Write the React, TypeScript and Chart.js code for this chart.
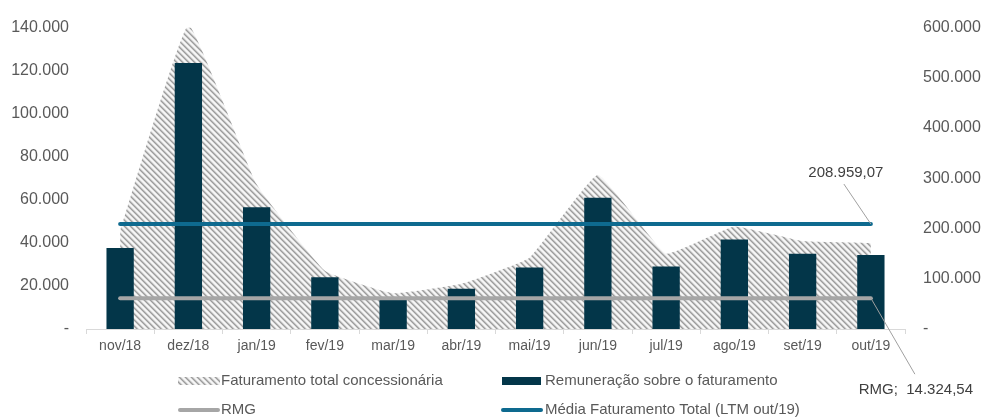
import React, { useEffect, useRef } from 'react';
import { Chart, registerables } from 'chart.js';

Chart.register(...registerables);

const categories = ['nov/18', 'dez/18', 'jan/19', 'fev/19', 'mar/19', 'abr/19', 'mai/19', 'jun/19', 'jul/19', 'ago/19', 'set/19', 'out/19'];
// Faturamento total concessionária (right axis)
const faturamento = [195000, 605000, 288000, 116000, 71000, 90000, 142000, 307000, 150000, 204000, 175000, 171000];
// Remuneração sobre o faturamento (left axis)
const remuneracao = [37600, 123500, 56500, 24000, 13800, 18700, 28600, 61000, 29000, 41600, 35000, 34400];
const rmgValue = 14324.54;
const mediaValue = 208959.07;
const leftMax = 140000;
const leftStep = 20000;
const rightMax = 600000;
const rightStep = 100000;

const legendLabels = ['Faturamento total concessionária', 'Remuneração sobre o faturamento', 'RMG', 'Média Faturamento Total (LTM out/19)'];

const FONT = '"Liberation Sans", Arial, sans-serif';
const NAVY = '#033649';
const BLUE = '#0e6a8f';
const GRAY = '#a6a6a6';
const TEXT = '#595959';

function fmtInt(v: number): string {
  if (v === 0) return '-';
  return Math.round(v).toString().replace(/\B(?=(\d{3})+(?!\d))/g, '.');
}
function fmtDec(v: number): string {
  const [i, d] = v.toFixed(2).split('.');
  return i.replace(/\B(?=(\d{3})+(?!\d))/g, '.') + ',' + d;
}

function makeHatch(): CanvasPattern | string {
  const n = 6;
  const c = document.createElement('canvas');
  c.width = n;
  c.height = n;
  const ctx = c.getContext('2d');
  if (!ctx) return '#cccccc';
  const shades = ['#9c9c9c', '#b8b8b8', '#e2e2e2', '#f6f6f6', '#f6f6f6', '#d6d6d6'];
  for (let y = 0; y < n; y++) {
    for (let x = 0; x < n; x++) {
      const d = (((x - y) % n) + n) % n;
      ctx.fillStyle = shades[d];
      ctx.fillRect(x, y, 1, 1);
    }
  }
  const p = ctx.createPattern(c, 'repeat');
  return p || '#cccccc';
}

export default function App() {
  const ref = useRef<HTMLCanvasElement | null>(null);

  useEffect(() => {
    if (!ref.current) return;
    const hatch = makeHatch();

    const overlay = {
      id: 'overlay',
      afterDraw(chart: any) {
        const ctx = chart.ctx as CanvasRenderingContext2D;
        const x = chart.scales.x;
        const y = chart.scales.y;
        const y1 = chart.scales.y1;
        ctx.save();
        // annotations
        const lastX = x.getPixelForValue(categories.length - 1);
        const mY = y1.getPixelForValue(mediaValue);
        const rY = y.getPixelForValue(rmgValue);
        ctx.strokeStyle = '#a0a0a0';
        ctx.lineWidth = 1;
        ctx.beginPath();
        ctx.moveTo(lastX - 27, mY - 40);
        ctx.lineTo(lastX, mY);
        ctx.moveTo(lastX, rY);
        ctx.lineTo(lastX + 44, rY + 76);
        ctx.stroke();
        ctx.fillStyle = '#404040';
        ctx.font = '15px ' + FONT;
        ctx.textAlign = 'center';
        ctx.textBaseline = 'middle';
        ctx.fillText(fmtDec(mediaValue), lastX - 25, mY - 51);
        ctx.fillText('RMG;  ' + fmtDec(rmgValue), lastX + 45, rY + 92);

        // legend
        ctx.textAlign = 'left';
        const r1 = 381;
        const r2 = 410;
        ctx.fillStyle = hatch as any;
        ctx.fillRect(178, r1 - 4, 42, 8);
        ctx.fillStyle = NAVY;
        ctx.fillRect(502, r1 - 4, 39, 8);
        ctx.lineCap = 'round';
        ctx.lineWidth = 4;
        ctx.strokeStyle = GRAY;
        ctx.beginPath();
        ctx.moveTo(180, r2);
        ctx.lineTo(218, r2);
        ctx.stroke();
        ctx.strokeStyle = BLUE;
        ctx.beginPath();
        ctx.moveTo(503, r2);
        ctx.lineTo(541, r2);
        ctx.stroke();
        ctx.fillStyle = TEXT;
        ctx.font = '15px ' + FONT;
        ctx.fillText(legendLabels[0], 221, r1);
        ctx.fillText(legendLabels[1], 545, r1);
        ctx.fillText(legendLabels[2], 221, r2);
        ctx.fillText(legendLabels[3], 545, r2);
        ctx.restore();
      },
    };

    const chart = new Chart(ref.current, {
      type: 'bar',
      data: {
        labels: categories,
        datasets: [
          {
            type: 'line',
            label: legendLabels[3],
            data: categories.map(() => mediaValue),
            yAxisID: 'y1',
            borderColor: BLUE,
            borderWidth: 4,
            borderCapStyle: 'round',
            pointRadius: 0,
            fill: false,
            order: 0,
          } as any,
          {
            type: 'line',
            label: legendLabels[2],
            data: categories.map(() => rmgValue),
            yAxisID: 'y',
            borderColor: GRAY,
            borderWidth: 4,
            borderCapStyle: 'round',
            pointRadius: 0,
            fill: false,
            order: 1,
          } as any,
          {
            type: 'bar',
            label: legendLabels[1],
            data: remuneracao,
            yAxisID: 'y',
            backgroundColor: NAVY,
            barPercentage: 0.4,
            categoryPercentage: 1,
            order: 2,
          },
          {
            type: 'line',
            label: legendLabels[0],
            data: faturamento,
            yAxisID: 'y1',
            backgroundColor: hatch as any,
            borderWidth: 0,
            borderColor: 'rgba(0,0,0,0)',
            pointRadius: 0,
            tension: 0.1,
            fill: 'origin',
            order: 3,
          } as any,
        ],
      },
      options: {
        animation: false,
        responsive: false,
        maintainAspectRatio: false,
        layout: { padding: { top: 24, left: 0, right: 0, bottom: 0 } },
        plugins: {
          legend: { display: false },
          tooltip: { enabled: false },
        },
        scales: {
          x: {
            offset: true,
            grid: {
              display: true,
              offset: true,
              drawOnChartArea: false,
              drawTicks: true,
              tickLength: 5,
              color: '#d9d9d9',
            },
            border: { display: true, color: '#d9d9d9', width: 1 },
            ticks: {
              color: TEXT,
              font: { family: FONT, size: 14 },
              padding: 4,
              maxRotation: 0,
              autoSkip: false,
            },
            afterFit(scale: any) {
              scale.height = 89;
            },
          },
          y: {
            position: 'left',
            min: 0,
            max: leftMax,
            grid: { display: false, drawTicks: false },
            border: { display: false },
            ticks: {
              stepSize: leftStep,
              color: TEXT,
              font: { family: FONT, size: 16 },
              padding: 17,
              callback: (v: any) => fmtInt(Number(v)),
            },
            afterFit(scale: any) {
              scale.width = 86;
            },
          },
          y1: {
            position: 'right',
            min: 0,
            max: rightMax,
            grid: { display: false, drawTicks: false },
            border: { display: false },
            ticks: {
              stepSize: rightStep,
              color: TEXT,
              font: { family: FONT, size: 16 },
              padding: 18,
              callback: (v: any) => fmtInt(Number(v)),
            },
            afterFit(scale: any) {
              scale.width = 77;
            },
          },
        },
      },
      plugins: [overlay],
    });
    return () => chart.destroy();
  }, []);

  return (
    <div style={{ position: 'absolute', left: 0, top: 0, width: 982, height: 418, background: '#ffffff' }}>
      <canvas ref={ref} width={982} height={418} style={{ width: 982, height: 418, display: 'block' }} />
    </div>
  );
}
